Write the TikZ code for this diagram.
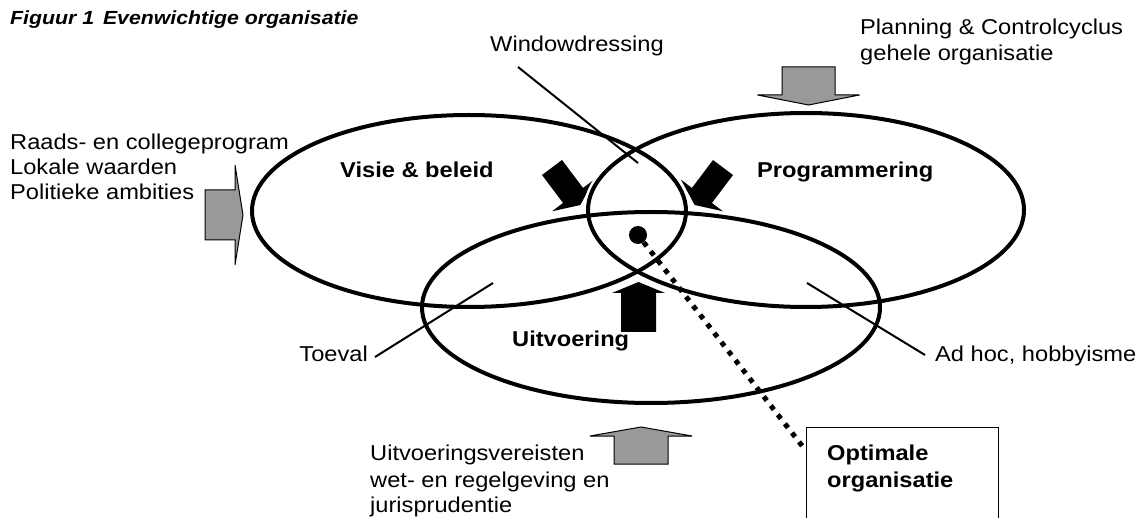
\documentclass[tikz,border=0pt]{standalone}
\usepackage{fontspec}
\setmainfont{Liberation Sans}
\newfontfamily\rf[FakeStretch=1.1]{Liberation Sans}
\newfontfamily\tf[FakeStretch=1.12]{Liberation Sans}
\usetikzlibrary{calc}
\newcommand{\flatarr}[7]{%
  \path[#1, shift={#2}, rotate=#3] (0,#5) -- (#4,#5) -- (#4,#6) -- ({#4+#7},0) -- (#4,-#6) -- (#4,-#5) -- (0,-#5) -- cycle;}
\tikzset{
  txt/.style={font={\rf\fontsize{21.5pt}{25pt}\selectfont}, inner sep=0pt, anchor=base west},
  btxt/.style={txt, font={\rf\bfseries\fontsize{21.5pt}{25pt}\selectfont}},
  ell/.style={line width=4pt},
  halo/.style={line width=9pt, white},
  leader/.style={line width=2pt},
  grayarrow/.style={fill={rgb,255:red,153;green,153;blue,153}, draw=black, line width=1pt},
  blackarrow/.style={fill=black},
  dots/.style={line width=5pt, dash pattern=on 5pt off 6.5pt},
}
\begin{document}
\begin{tikzpicture}[x=1pt,y=-1pt]
\useasboundingbox (0,0) rectangle (1140,518);
\clip (0,0) rectangle (1140,518);
\fill[white] (0,0) rectangle (1140,518);

% title
\node[inner sep=0pt, anchor=base west, font={\tf\bfseries\itshape\fontsize{19pt}{22pt}\selectfont}] (title) at (10,25) {Figuur 1\hspace{3pt} Evenwichtige organisatie};

% gray input arrows
\flatarr{grayarrow}{(205,215)}{0}{30}{25}{50}{8}
\flatarr{grayarrow}{(808.5,67)}{-90}{28}{26.5}{51}{10}
\flatarr{grayarrow}{(641,464)}{90}{28}{27}{51}{9}

% black arrows
\flatarr{blackarrow}{(552,167.5)}{-53}{35}{12.5}{26.3}{12}
\flatarr{blackarrow}{(723,167.5)}{-127}{35}{12.5}{26.3}{12}
\flatarr{blackarrow}{(638.5,332)}{90}{39}{17.5}{26.5}{11}

% ellipses (white halo first)
\draw[halo] (469,211) ellipse [x radius=217, y radius=96];
\draw[halo] (806,210) ellipse [x radius=218, y radius=97];
\draw[halo] (651,307.5) ellipse [x radius=229, y radius=95.5];
\draw[ell] (469,211) ellipse [x radius=217, y radius=96];
\draw[ell] (806,210) ellipse [x radius=218, y radius=97];
\draw[ell] (651,307.5) ellipse [x radius=229, y radius=95.5];

% ellipse labels
\node[btxt] (visie) at (340,178) {Visie \& beleid};
\node[btxt] (prog) at (757,178) {Programmering};
\node[btxt] (uitv) at (512,347) {Uitvoering};

% outside texts
\node[txt] (raads1) at (10,150) {Raads- en collegeprogram};
\node[txt] (raads2) at (10,175) {Lokale waarden};
\node[txt] (raads3) at (10,200) {Politieke ambities};
\node[txt] (plan1) at (860,35) {Planning \& Controlcyclus};
\node[txt] (plan2) at (860,61) {gehele organisatie};
\node[txt] (uv1) at (370,460) {Uitvoeringsvereisten};
\node[txt] (uv2) at (370,487) {wet- en regelgeving en};
\node[txt] (uv3) at (370,512) {jurisprudentie};
\node[txt] (wd) at (490,52) {Windowdressing};
\node[txt, anchor=base east] (toeval) at (368,362) {Toeval};
\node[txt] (adhoc) at (935,362) {Ad hoc, hobbyisme};

% leader lines
\coordinate (wdA) at (518,67);
\coordinate (wdB) at (638,163);
\draw[leader] (wdA) -- (wdB);
\coordinate (toA) at (375,357);
\coordinate (toB) at (493,283);
\draw[leader] (toA) -- (toB);
\coordinate (ahA) at (925,355);
\coordinate (ahB) at (807,283);
\draw[leader] (ahA) -- (ahB);

% optimal organisation box
\node[draw, line width=1.3pt, minimum width=192pt, minimum height=130pt, anchor=north west, inner sep=0pt] (opt) at (806,427) {};
\node[btxt] (opt1) at (827,460) {Optimale};
\node[btxt] (opt2) at (827,487) {organisatie};

% dot and dotted connector
\node[circle, fill=black, minimum size=18pt, inner sep=0pt] (dot) at (638,235) {};
\draw[dots] (dot) -- ($(opt.north west)+(-3,20)$);
\end{tikzpicture}
\end{document}
